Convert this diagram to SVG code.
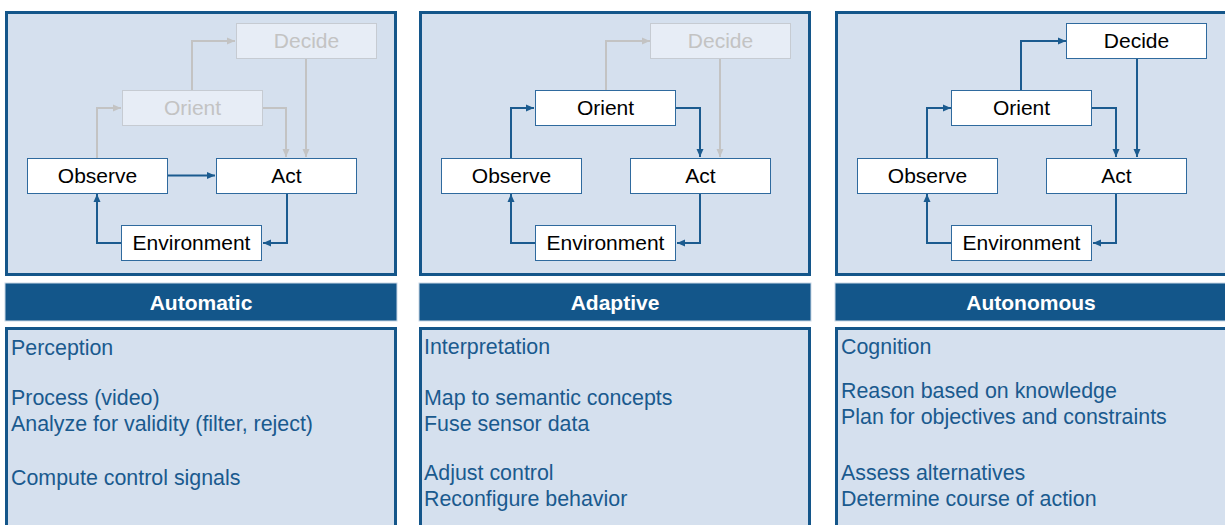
<svg xmlns="http://www.w3.org/2000/svg" width="1225" height="525" viewBox="0 0 1225 525">
  <style>
    .panel { fill: #d5e0ee; stroke: #14568a; stroke-width: 3; }
    .header { fill: #13568a; stroke: #c9d7e6; stroke-width: 1; }
    .htext { font-family: "Liberation Sans", Arial, sans-serif; font-size: 21px; font-weight: bold; fill: #ffffff; text-anchor: middle; }
    .node { fill: #ffffff; stroke: #2f6a9e; stroke-width: 1; }
    .ntext { font-family: "Liberation Sans", Arial, sans-serif; font-size: 21px; fill: #000000; text-anchor: middle; }
    .fnode { fill: #e7edf6; stroke: #c6cbd2; stroke-width: 1; }
    .ftext { font-family: "Liberation Sans", Arial, sans-serif; font-size: 21px; fill: #c3c3c3; text-anchor: middle; }
    .link { fill: none; stroke: #1b5b8f; stroke-width: 2; marker-end: url(#arrowBlue); }
    .flink { fill: none; stroke: #c3c3c3; stroke-width: 2; marker-end: url(#arrowGray); }
    .btext { font-family: "Liberation Sans", Arial, sans-serif; font-size: 21.4px; fill: #1a5a8e; }
  </style>
  <defs>
    <marker id="arrowBlue" markerUnits="userSpaceOnUse" markerWidth="9" markerHeight="8" refX="8" refY="4" orient="auto">
      <path d="M0,0.5 L8,4 L0,7.5 z" fill="#1b5b8f"/>
    </marker>
    <marker id="arrowGray" markerUnits="userSpaceOnUse" markerWidth="9" markerHeight="8" refX="8" refY="4" orient="auto">
      <path d="M0,0.5 L8,4 L0,7.5 z" fill="#c3c3c3"/>
    </marker>
  </defs>

  <!-- panel frames -->
  <g id="frames">
    <rect class="panel" x="6.5" y="12.5" width="389" height="262"/>
    <rect class="panel" x="420.5" y="12.5" width="389" height="262"/>
    <rect class="panel" x="836.5" y="12.5" width="400" height="262"/>
    <rect class="panel" x="6.5" y="328.5" width="389" height="210"/>
    <rect class="panel" x="420.5" y="328.5" width="389" height="210"/>
    <rect class="panel" x="836.5" y="328.5" width="400" height="210"/>
  </g>

  <!-- category headers -->
  <g id="header-automatic">
    <rect class="header" x="5" y="283" width="392" height="38"/>
    <text class="htext" x="201" y="309.5">Automatic</text>
  </g>
  <g id="header-adaptive">
    <rect class="header" x="419" y="283" width="392" height="38"/>
    <text class="htext" x="615" y="309.5">Adaptive</text>
  </g>
  <g id="header-autonomous">
    <rect class="header" x="835" y="283" width="400" height="38"/>
    <text class="htext" x="1031" y="309.5">Autonomous</text>
  </g>

  <!-- connectors -->
  <g id="connectors">
    <!-- automatic loop -->
    <path class="flink" d="M97,158 V108 H121"/>
    <path class="flink" d="M192,90 V41 H235"/>
    <path class="flink" d="M262,108 H286 V157"/>
    <path class="flink" d="M306,59 V157"/>
    <path class="link" d="M167,175.5 H215"/>
    <path class="link" d="M287,193 V243 H263"/>
    <path class="link" d="M121,243 H97 V194"/>
    <!-- adaptive loop -->
    <path class="link" d="M511,158 V108 H534"/>
    <path class="flink" d="M606,90 V41 H650"/>
    <path class="link" d="M676,108 H700 V157"/>
    <path class="flink" d="M720,59 V157"/>
    <path class="link" d="M700,193 V243 H677"/>
    <path class="link" d="M535,243 H511 V194"/>
    <!-- autonomous loop -->
    <path class="link" d="M927,158 V108 H951"/>
    <path class="link" d="M1021,90 V41 H1066"/>
    <path class="link" d="M1092,108 H1116 V157"/>
    <path class="link" d="M1137,59 V157"/>
    <path class="link" d="M1116,193 V243 H1093"/>
    <path class="link" d="M952,243 H927 V194"/>
  </g>

  <!-- automatic nodes -->
  <g id="auto-decide"><rect class="fnode" x="236.5" y="23.5" width="140" height="35"/><text class="ftext" x="306.5" y="48">Decide</text></g>
  <g id="auto-orient"><rect class="fnode" x="122.5" y="90.5" width="140" height="35"/><text class="ftext" x="192.5" y="115">Orient</text></g>
  <g id="auto-observe"><rect class="node" x="27.5" y="158.5" width="140" height="35"/><text class="ntext" x="97.5" y="182.5">Observe</text></g>
  <g id="auto-act"><rect class="node" x="216.5" y="158.5" width="140" height="35"/><text class="ntext" x="286.5" y="182.5">Act</text></g>
  <g id="auto-environment"><rect class="node" x="121.5" y="225.5" width="140" height="35"/><text class="ntext" x="191.5" y="249.5">Environment</text></g>

  <!-- adaptive nodes -->
  <g id="adapt-decide"><rect class="fnode" x="650.5" y="23.5" width="140" height="35"/><text class="ftext" x="720.5" y="48">Decide</text></g>
  <g id="adapt-orient"><rect class="node" x="535.5" y="90.5" width="140" height="35"/><text class="ntext" x="605.5" y="115">Orient</text></g>
  <g id="adapt-observe"><rect class="node" x="441.5" y="158.5" width="140" height="35"/><text class="ntext" x="511.5" y="182.5">Observe</text></g>
  <g id="adapt-act"><rect class="node" x="630.5" y="158.5" width="140" height="35"/><text class="ntext" x="700.5" y="182.5">Act</text></g>
  <g id="adapt-environment"><rect class="node" x="535.5" y="225.5" width="140" height="35"/><text class="ntext" x="605.5" y="249.5">Environment</text></g>

  <!-- autonomous nodes -->
  <g id="auton-decide"><rect class="node" x="1066.5" y="23.5" width="140" height="35"/><text class="ntext" x="1136.5" y="48">Decide</text></g>
  <g id="auton-orient"><rect class="node" x="951.5" y="90.5" width="140" height="35"/><text class="ntext" x="1021.5" y="115">Orient</text></g>
  <g id="auton-observe"><rect class="node" x="857.5" y="158.5" width="140" height="35"/><text class="ntext" x="927.5" y="182.5">Observe</text></g>
  <g id="auton-act"><rect class="node" x="1046.5" y="158.5" width="140" height="35"/><text class="ntext" x="1116.5" y="182.5">Act</text></g>
  <g id="auton-environment"><rect class="node" x="951.5" y="225.5" width="140" height="35"/><text class="ntext" x="1021.5" y="249.5">Environment</text></g>

  <!-- capability descriptions -->
  <g id="automatic-notes" class="btext">
    <text x="11" y="355">Perception</text>
    <text x="11" y="405">Process (video)</text>
    <text x="11" y="431">Analyze for validity (filter, reject)</text>
    <text x="11" y="485">Compute control signals</text>
  </g>
  <g id="adaptive-notes" class="btext">
    <text x="424" y="354">Interpretation</text>
    <text x="424" y="405">Map to semantic concepts</text>
    <text x="424" y="431">Fuse sensor data</text>
    <text x="424" y="480">Adjust control</text>
    <text x="424" y="506">Reconfigure behavior</text>
  </g>
  <g id="autonomous-notes" class="btext">
    <text x="841" y="354">Cognition</text>
    <text x="841" y="398">Reason based on knowledge</text>
    <text x="841" y="424">Plan for objectives and constraints</text>
    <text x="841" y="480">Assess alternatives</text>
    <text x="841" y="506">Determine course of action</text>
  </g>
</svg>
